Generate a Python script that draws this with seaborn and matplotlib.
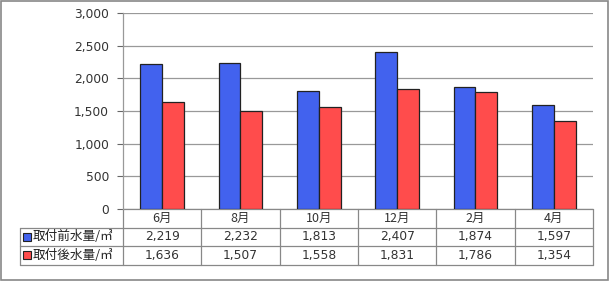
import matplotlib
matplotlib.use("Agg")
import matplotlib.pyplot as plt
import matplotlib.transforms as mtransforms
from matplotlib.patches import Rectangle
import seaborn as sns
import pandas as pd

months = ["6月", "8月", "10月", "12月", "2月", "4月"]
before = [2219, 2232, 1813, 2407, 1874, 1597]
after = [1636, 1507, 1558, 1831, 1786, 1354]
series_names = ["取付前水量/㎥", "取付後水量/㎥"]
colors = ["#4262EE", "#FF4C4C"]
yticks = [0, 500, 1000, 1500, 2000, 2500, 3000]

sns.set_style("white")
plt.rcParams["font.family"] = ["Noto Sans CJK JP", "DejaVu Sans"]

df = pd.DataFrame({
    "month": months * 2,
    "value": before + after,
    "series": [series_names[0]] * len(months) + [series_names[1]] * len(months),
})

W, H = 610, 281
fig = plt.figure(figsize=(W / 100, H / 100), dpi=100)
L, R, T, B = 123, 593, 13, 209
ax = fig.add_axes([L / W, 1 - B / H, (R - L) / W, (B - T) / H])

sns.barplot(data=df, x="month", y="value", hue="series", order=months,
            hue_order=series_names, palette=colors, width=0.56,
            edgecolor="#222222", linewidth=0.9, saturation=1, ax=ax,
            legend=False, zorder=3)

txtc = "#333333"
ax.set_xlim(-0.5, len(months) - 0.5)
ax.set_ylim(0, 3000)
ax.set_yticks(yticks)
ax.set_yticklabels([f"{v:,}" for v in yticks], fontsize=8.8, color=txtc,
                   family="DejaVu Sans")
ax.tick_params(axis="y", length=4, width=0.8, color="#666666", pad=6, left=True)
ax.set_xticks([])
ax.set_xlabel("")
ax.set_ylabel("")
ax.grid(axis="y", color="#999999", linewidth=0.9, zorder=0)
ax.set_axisbelow(True)
for s in ["top", "right", "bottom"]:
    ax.spines[s].set_visible(False)
ax.spines["left"].set_color("#999999")
ax.spines["left"].set_linewidth(0.9)

# data table below the axes
tr = mtransforms.blended_transform_factory(ax.transData, ax.transAxes)
px = 1.0 / (B - T)  # axes fraction per pixel
row_h = 18.5 * px
y0 = 0.0
y1 = -row_h
y2 = -2 * row_h
y3 = -3 * row_h
xl = -0.5 - 103 / ((R - L) / len(months))
xr = len(months) - 0.5
lc = "#888888"
lw = 0.9
kw = dict(transform=tr, color=lc, linewidth=lw, clip_on=False)
ax.plot([-0.5, xr], [y0, y0], **kw)
ax.plot([xl, xr], [y1, y1], **kw)
ax.plot([xl, xr], [y2, y2], **kw)
ax.plot([xl, xr], [y3, y3], **kw)
ax.plot([xl, xl], [y1, y3], **kw)
for i in range(len(months) + 1):
    ax.plot([i - 0.5, i - 0.5], [y0, y3], **kw)

for i, m in enumerate(months):
    ax.text(i, (y0 + y1) / 2, m, transform=tr, ha="center", va="center",
            fontsize=9, color=txtc)
    ax.text(i, (y1 + y2) / 2, f"{before[i]:,}", transform=tr, ha="center",
            va="center", fontsize=8.8, color=txtc, family="DejaVu Sans")
    ax.text(i, (y2 + y3) / 2, f"{after[i]:,}", transform=tr, ha="center",
            va="center", fontsize=8.8, color=txtc, family="DejaVu Sans")

sq_w = 0.1
for k, (name, c) in enumerate(zip(series_names, colors)):
    yc = -(k + 1.5) * row_h
    ax.add_patch(Rectangle((xl + 0.035, yc - 4 * px), sq_w, 8 * px, transform=tr,
                           facecolor=c, edgecolor="#222222", linewidth=0.8,
                           clip_on=False))
    ax.text(xl + 0.035 + sq_w + 0.025, yc, name, transform=tr, ha="left",
            va="center", fontsize=9.1, color="#222222")

fig.patches.append(Rectangle((0.002, 0.002), 0.995, 0.995, transform=fig.transFigure,
                             fill=False, edgecolor="#888888", linewidth=1.2))

fig.savefig("out.png", dpi=100, facecolor="white")
